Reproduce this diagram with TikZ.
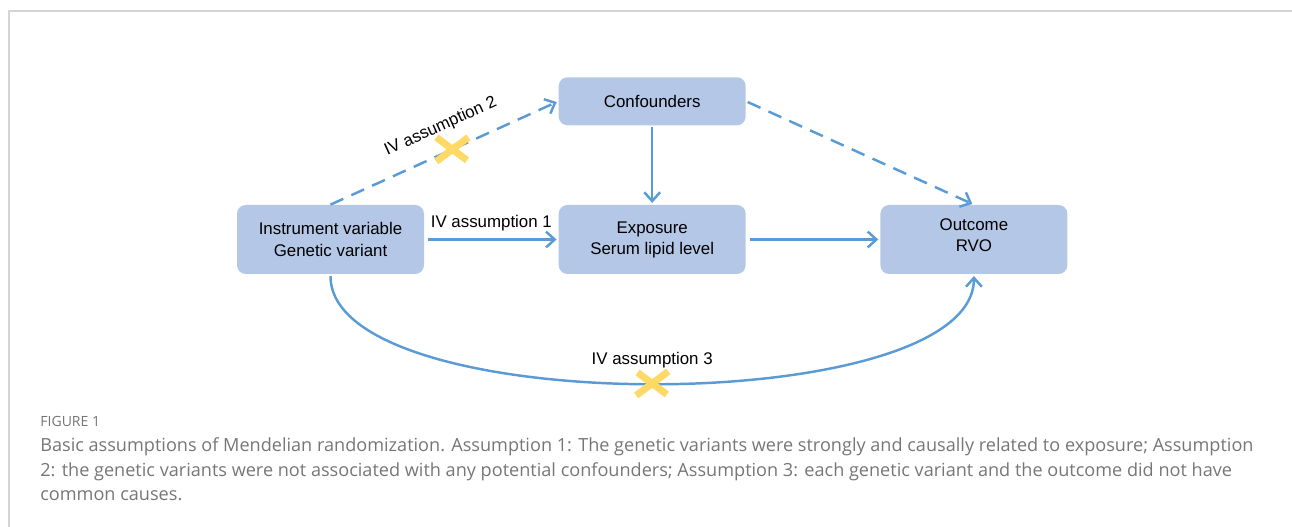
\documentclass[tikz,border=0pt]{standalone}
\usepackage{fontspec}
\setmainfont{Liberation Sans}
\newfontfamily\capfont{Open Sans}
\usetikzlibrary{positioning}
\usetikzlibrary{shapes.misc,shapes}
\usetikzlibrary{arrows.meta}
\definecolor{boxblue}{HTML}{B4C7E7}
\definecolor{lineblue}{HTML}{5B9BD5}
\definecolor{crossyellow}{HTML}{FFD966}
\definecolor{framegray}{HTML}{D4D4D4}
\definecolor{capgray}{HTML}{767676}

\tikzset{
  varbox/.style={fill=boxblue,rounded corners=5pt,minimum width=3.74cm,minimum height=1.38cm,align=center,font=\fontsize{9.6}{12}\selectfont,inner sep=0pt},
  link/.style={lineblue,line width=1.4pt,-{Straight Barb[length=5pt,width=9pt]}},
  nolink/.style={link,dash pattern=on 8pt off 5pt},
  crossmark/.style={solid,cross out,draw=crossyellow,line width=4pt,minimum width=0.5cm,minimum height=0.34cm,inner sep=0pt},
  ivlabel/.style={font=\fontsize{9.6}{12}\selectfont,text=black}
}

\begin{document}
\begin{tikzpicture}
\useasboundingbox (0,0) rectangle (25.84,10.54);
    % frame
    \draw[framegray,line width=0.8pt] (0.18,0) |- (25.84,10.32);

    % variables
    \node[varbox] (instr) at (6.61,5.75) {Instrument variable\\Genetic variant};
    \node[varbox,right=2.68cm of instr] (expo) {Exposure\\Serum lipid level};
    \node[varbox,right=2.68cm of expo,text depth=0.16cm] (outc) {Outcome\\RVO};
    \node[varbox,above=1.58cm of expo,minimum height=0.96cm] (conf) {Confounders};

    % connectors
    \draw[link,shorten <=2pt,shorten >=1pt] (instr.east) -- (expo.west)
        node[ivlabel,midway,above=1pt] (iv1) {IV assumption 1};
    \draw[link,shorten <=2pt,shorten >=1pt] (expo.east) -- (outc.west);
    \draw[link,shorten <=1pt,shorten >=1pt] (conf.south) -- (expo.north);
    \draw[nolink,shorten >=1pt] (instr.north) -- (conf.west)
        node[ivlabel,pos=0.53,sloped,above=6pt] (iv2) {IV assumption 2}
        node[crossmark,pos=0.535] (cross2) {};
    \draw[nolink,shorten <=1pt,shorten >=1pt] (conf.east) -- (outc.north);
    \draw[link,shorten <=1pt,shorten >=1pt] (instr.south) .. controls +(0,-2.92) and +(0,-2.9) .. (outc.south)
        node[ivlabel,pos=0.5,above=5pt] (iv3) {IV assumption 3}
        node[crossmark,pos=0.5] (cross3) {};

    % caption
    \node[anchor=base west,inner sep=0,text=capgray,font=\capfont\fontsize{8}{10}\selectfont] (fignum) at (0.80,2.0) {FIGURE 1};
    \node[anchor=base west,inner sep=0,align=left,text=capgray,font=\capfont\fontsize{10.3}{14.2}\selectfont] (caption) at (0.80,0.52)
        {Basic assumptions of Mendelian randomization. Assumption 1: The genetic variants were strongly and causally related to exposure; Assumption\\
         2: the genetic variants were not associated with any potential confounders; Assumption 3: each genetic variant and the outcome did not have\\
         common causes.};
\end{tikzpicture}
\end{document}
